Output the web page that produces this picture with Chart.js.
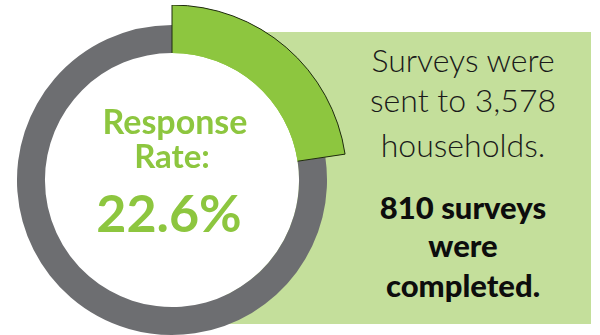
<!DOCTYPE html>
<html>
<head>
<meta charset="utf-8">
<script src="https://cdn.jsdelivr.net/npm/chart.js@4"></script>
<style>
  html, body { margin: 0; padding: 0; background: #fff; }
  #wrap { position: relative; width: 600px; height: 335px; overflow: hidden; font-family: Lato, "Open Sans", sans-serif; }
  #panel { position: absolute; left: 225px; top: 32px; width: 366px; height: 292px; background: #c4df9b; }
  #chartBox { position: absolute; left: -3px; top: 5px; width: 350px; height: 350px; }
  .line { position: absolute; text-align: center; line-height: 1; white-space: nowrap; }
  .big { color: #8dc63f; font-weight: 700; }
  .note { color: #1a1a1a; font-weight: 300; }
  .strong { color: #0d0d0d; font-weight: 900; }
</style>
</head>
<body>
<div id="wrap">
  <div id="panel"></div>
  <div id="chartBox"><canvas id="chart" width="350" height="350"></canvas></div>

  <div class="line big" style="left:75px;width:200px;top:104px;font-size:34px;">Response</div>
  <div class="line big" style="left:72px;width:200px;top:139px;font-size:33px;">Rate:</div>
  <div class="line big" style="left:69px;width:200px;top:186px;font-size:52px;">22.6%</div>

  <div class="line note" style="left:363px;width:200px;top:44px;font-size:32px;">Surveys were</div>
  <div class="line note" style="left:363px;width:200px;top:84px;font-size:32px;">sent to 3,578</div>
  <div class="line note" style="left:363px;width:200px;top:129px;font-size:32px;">households.</div>

  <div class="line strong" style="left:363px;width:200px;top:192px;font-size:31px;">810 surveys</div>
  <div class="line strong" style="left:363px;width:200px;top:230px;font-size:31px;">were</div>
  <div class="line strong" style="left:363px;width:200px;top:270px;font-size:31px;">completed.</div>
</div>

<script>
// -------------------------------------------------------------------
// Data
// -------------------------------------------------------------------
const categories = ["Completed", "Not returned"];
const surveyCounts = [810, 2768];          // 3,578 sent, 810 back
const ringColors = ["#8dc63f", "#6d6e71"];
const raisedColors = ["#8dc63f", "rgba(0,0,0,0)"];

// -------------------------------------------------------------------
// Plugins: white hole + outline on the raised green slice
// -------------------------------------------------------------------
const whiteHole = {
  id: "whiteHole",
  beforeDatasetsDraw(chart) {
    const arc = chart.getDatasetMeta(1).data[0];
    const ctx = chart.ctx;
    ctx.save();
    ctx.fillStyle = "#fff";
    ctx.beginPath();
    ctx.arc(arc.x, arc.y, arc.innerRadius, 0, Math.PI * 2);
    ctx.fill();
    ctx.restore();
  }
};

const sliceOutline = {
  id: "sliceOutline",
  afterDatasetsDraw(chart) {
    const outer = chart.getDatasetMeta(0).data[0];
    const inner = chart.getDatasetMeta(1).data[0];
    const ctx = chart.ctx;
    const r0 = inner.innerRadius, r1 = outer.outerRadius;
    const a0 = outer.startAngle, a1 = outer.endAngle;
    ctx.save();
    // fill the seam between the two green rings
    ctx.fillStyle = ringColors[0];
    ctx.beginPath();
    ctx.arc(outer.x, outer.y, r1, a0, a1);
    ctx.arc(outer.x, outer.y, r0, a1, a0, true);
    ctx.closePath();
    ctx.fill();
    // outline: start edge, outer arc, end edge
    ctx.strokeStyle = "#1f2a10";
    ctx.lineWidth = 1;
    ctx.beginPath();
    ctx.moveTo(outer.x + r0 * Math.cos(a0), outer.y + r0 * Math.sin(a0));
    ctx.lineTo(outer.x + r1 * Math.cos(a0), outer.y + r1 * Math.sin(a0));
    ctx.arc(outer.x, outer.y, r1, a0, a1);
    ctx.lineTo(outer.x + r0 * Math.cos(a1), outer.y + r0 * Math.sin(a1));
    ctx.stroke();
    ctx.restore();
  }
};

// -------------------------------------------------------------------
// Chart
// -------------------------------------------------------------------
new Chart(document.getElementById("chart"), {
  type: "doughnut",
  data: {
    labels: categories,
    datasets: [
      { data: surveyCounts, backgroundColor: raisedColors, borderWidth: 0, weight: 20 },
      { data: surveyCounts, backgroundColor: ringColors,   borderWidth: 0, weight: 28 }
    ]
  },
  options: {
    responsive: false,
    animation: false,
    cutout: "72.6%",
    layout: { padding: 0 },
    plugins: { legend: { display: false }, tooltip: { enabled: false } }
  },
  plugins: [whiteHole, sliceOutline]
});
</script>
</body>
</html>
